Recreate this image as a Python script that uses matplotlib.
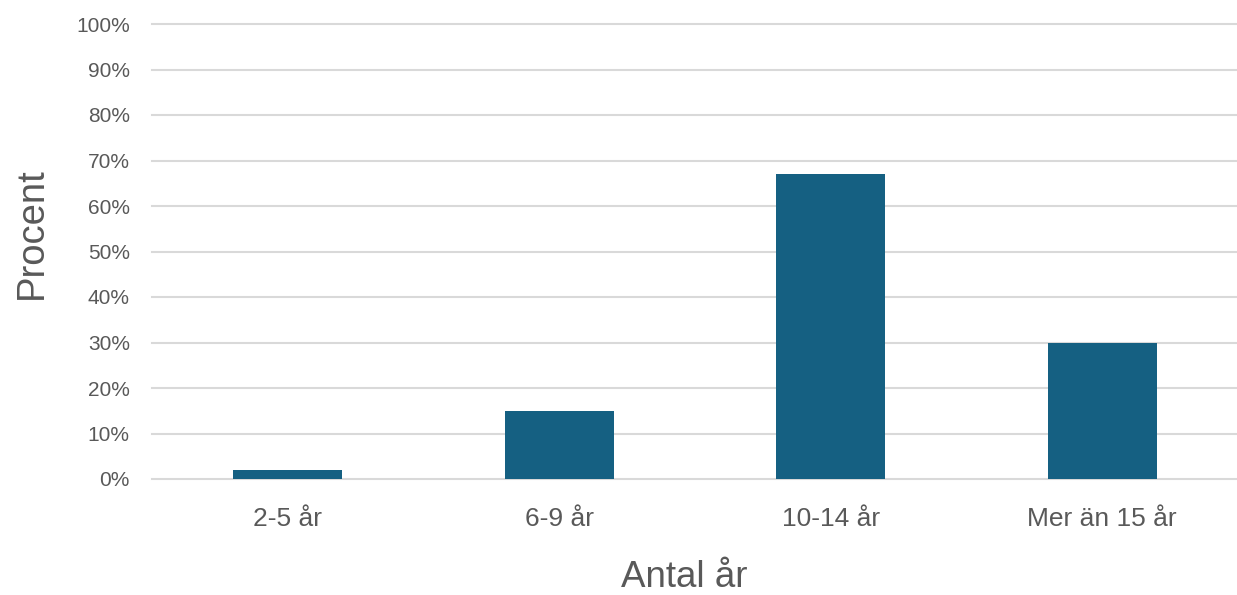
import matplotlib.pyplot as plt
from matplotlib.ticker import PercentFormatter

# Andel per antal år
categories = ['2-5 år', '6-9 år', '10-14 år', 'Mer än 15 år']
values = [2, 15, 67, 30]
yticks = list(range(0, 101, 10))

plt.rcParams['font.family'] = ['Liberation Sans', 'DejaVu Sans']
text_color = '#595959'

fig = plt.figure(figsize=(12.37, 5.95), dpi=100)
ax = fig.add_axes([152 / 1237, 1 - 479 / 595, 1086 / 1237, 455 / 595])

x = range(len(categories))
ax.bar(x, values, width=0.4, color='#156082', zorder=3)

ax.set_xlim(-0.5, len(categories) - 0.5)
ax.set_ylim(0, 100)
ax.set_yticks(yticks)
ax.yaxis.set_major_formatter(PercentFormatter(decimals=0))
ax.set_xticks(list(x))
ax.set_xticklabels(categories)

ax.grid(axis='y', color='#d9d9d9', linewidth=1.5, zorder=0)
ax.set_axisbelow(True)
# låt 0%- och 100%-linjerna ritas hela
for line in ax.get_ygridlines():
    line.set_clip_on(False)
for s in ax.spines.values():
    s.set_visible(False)
ax.tick_params(axis='y', length=0, pad=16, labelsize=15, labelcolor=text_color)
ax.tick_params(axis='x', length=0, pad=20, labelsize=19, labelcolor=text_color)

# axeltitlar placerade på baslinjen
ax.set_ylabel('Procent', fontsize=27.5, color=text_color, va='baseline')
ax.yaxis.set_label_coords(-0.1016, 0.5396)
ax.set_xlabel('Antal år', fontsize=26.5, color=text_color, va='baseline')
ax.xaxis.set_label_coords(0.4899, -0.237)

fig.savefig('out.png', dpi=100)
